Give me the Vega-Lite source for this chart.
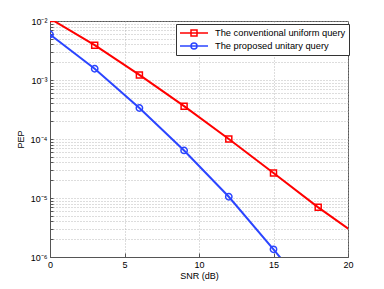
{
  "$schema": "https://vega.github.io/schema/vega-lite/v6.json",
  "autosize": "none",
  "width": 298,
  "height": 236,
  "padding": {"left": 50, "top": 21, "right": 36, "bottom": 32},
  "background": "white",
  "config": {
    "font": "Liberation Sans",
    "view": {"stroke": "#555", "strokeWidth": 1},
    "axis": {
      "labelFont": "Liberation Sans",
      "titleFont": "Liberation Sans",
      "labelFontSize": 9,
      "titleFontSize": 9,
      "labelColor": "black",
      "titleColor": "black",
      "titleFontWeight": "normal",
      "domainColor": "#555",
      "tickColor": "#555",
      "grid": true,
      "gridColor": "#aaaaaa",
      "gridDash": [1, 2],
      "gridWidth": 0.8
    }
  },
  "data": {
    "values": [
      {"snr": 0, "pep": 0.011, "series": "The conventional uniform query"},
      {"snr": 3, "pep": 0.0039, "series": "The conventional uniform query"},
      {"snr": 6, "pep": 0.00122, "series": "The conventional uniform query"},
      {"snr": 9, "pep": 0.00036, "series": "The conventional uniform query"},
      {"snr": 12, "pep": 0.0001, "series": "The conventional uniform query"},
      {"snr": 15, "pep": 0.0000265, "series": "The conventional uniform query"},
      {"snr": 18, "pep": 0.00000695, "series": "The conventional uniform query"},
      {"snr": 21, "pep": 0.000002, "series": "The conventional uniform query"},
      {"snr": 0, "pep": 0.0059, "series": "The proposed unitary query"},
      {"snr": 3, "pep": 0.00155, "series": "The proposed unitary query"},
      {"snr": 6, "pep": 0.000335, "series": "The proposed unitary query"},
      {"snr": 9, "pep": 0.000064, "series": "The proposed unitary query"},
      {"snr": 12, "pep": 0.0000105, "series": "The proposed unitary query"},
      {"snr": 15, "pep": 0.00000135, "series": "The proposed unitary query"},
      {"snr": 18, "pep": 0.00000016, "series": "The proposed unitary query"}
    ]
  },
  "encoding": {
    "x": {
      "field": "snr",
      "type": "quantitative",
      "scale": {"domain": [0, 20], "nice": false, "zero": false},
      "axis": {"title": "SNR (dB)", "values": [0, 5, 10, 15, 20], "tickSize": -4, "labelPadding": 7, "titlePadding": 2, "labelFlush": false}
    },
    "y": {
      "field": "pep",
      "type": "quantitative",
      "scale": {"type": "log", "domain": [0.000001, 0.01], "nice": false},
      "axis": {
        "title": "PEP",
        "titlePadding": 5,
        "tickSize": -3,
        "labelPadding": 6,
        "values": [0.000001, 0.000002, 0.000003, 0.000004, 0.000005, 0.000006, 0.000007, 0.000008, 0.000009,
                   0.00001, 0.00002, 0.00003, 0.00004, 0.00005, 0.00006, 0.00007, 0.00008, 0.00009,
                   0.0001, 0.0002, 0.0003, 0.0004, 0.0005, 0.0006, 0.0007, 0.0008, 0.0009,
                   0.001, 0.002, 0.003, 0.004, 0.005, 0.006, 0.007, 0.008, 0.009, 0.01],
        "labelExpr": "abs(log(datum.value)/LN10 - round(log(datum.value)/LN10)) < 0.01 ? ('10' + (round(log(datum.value)/LN10) == -2 ? '⁻²' : round(log(datum.value)/LN10) == -3 ? '⁻³' : round(log(datum.value)/LN10) == -4 ? '⁻⁴' : round(log(datum.value)/LN10) == -5 ? '⁻⁵' : '⁻⁶')) : ''"
      }
    },
    "color": {
      "field": "series",
      "type": "nominal",
      "scale": {"domain": ["The conventional uniform query", "The proposed unitary query"], "range": ["#ff0000", "#2b45ff"]},
      "legend": {
        "title": null,
        "orient": "none",
        "legendX": 126,
        "legendY": 3,
        "strokeColor": "#333",
        "fillColor": "white",
        "padding": 3,
        "labelFont": "Liberation Sans",
        "labelFontSize": 9.3,
        "labelColor": "black",
        "labelLimit": 300,
        "symbolSize": 100,
        "symbolOffset": 9,
        "labelOffset": 15,
        "rowPadding": 1,
        "symbolStrokeWidth": 1.5,
        "encode": {
          "symbols": {
            "update": {
              "shape": {"signal": "datum.value === 'The conventional uniform query' ? 'M-2.8,0H2.8M-0.6,-0.6H0.6V0.6H-0.6Z' : 'M-2.8,0H2.8M-0.6,0A0.6,0.6 0 1,0 0.6,0A0.6,0.6 0 1,0 -0.6,0'"},
              "fill": {"value": "transparent"}
            }
          }
        }
      }
    }
  },
  "layer": [
    {
      "mark": {"type": "line", "strokeWidth": 2, "clip": true},
      "encoding": {}
    },
    {
      "transform": [{"filter": "datum.series === 'The conventional uniform query'"}],
      "mark": {"type": "point", "shape": "square", "filled": false, "strokeWidth": 1.5, "size": 36, "clip": true, "opacity": 1},
      "encoding": {}
    },
    {
      "transform": [{"filter": "datum.series === 'The proposed unitary query'"}],
      "mark": {"type": "point", "shape": "circle", "filled": false, "strokeWidth": 1.5, "size": 40, "clip": true, "opacity": 1},
      "encoding": {}
    }
  ]
}
